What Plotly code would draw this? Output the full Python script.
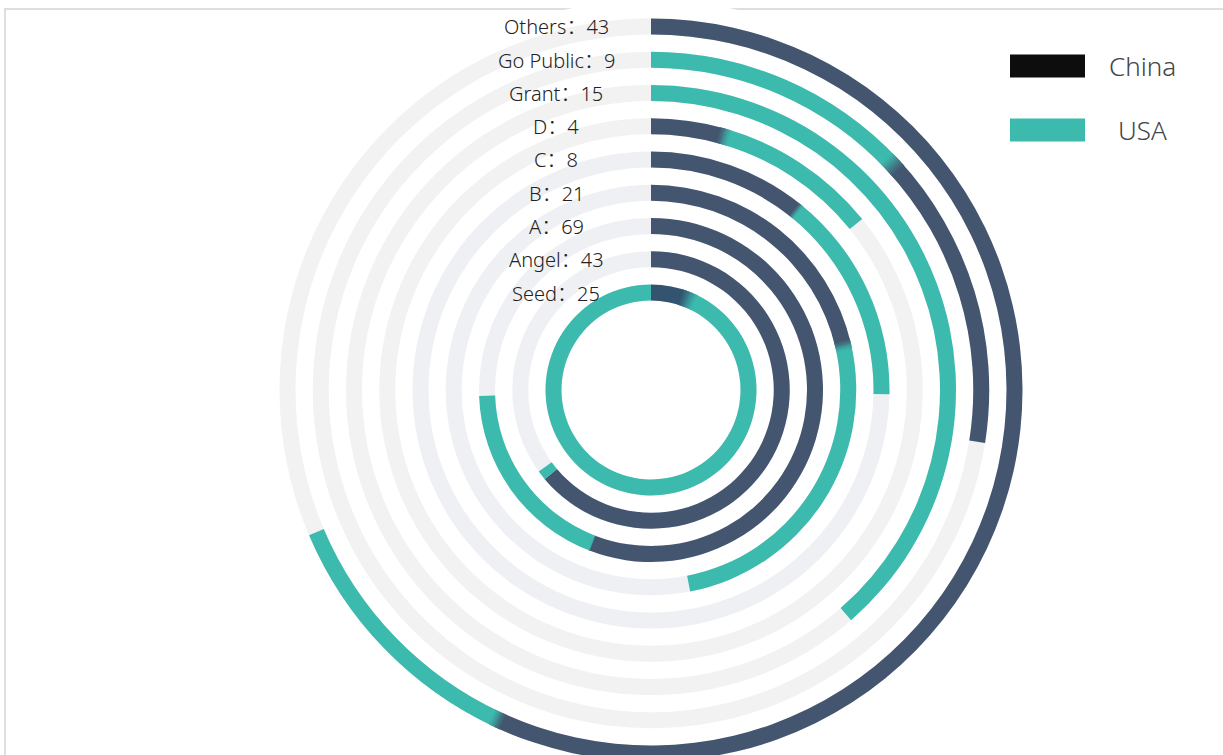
import plotly.graph_objects as go

# ---------------- data ----------------
categories = ["Seed", "Angel", "A", "B", "C", "D", "Grant", "Go Public", "Others"]
deal_counts = [25, 43, 69, 21, 8, 4, 15, 9, 43]
# angular extent (degrees) of each country's arc on every ring
china_deg = [22, 230, 201, 77, 39, 16, 0, 52, 205]
usa_deg = [338, 4, 67, 92, 52, 35, 139, 47, 42]
china_first = [True, True, True, True, True, True, True, False, True]
legend_labels = ["China", "USA"]

# ---------------- style ----------------
CHINA = "#445570"
SEED_CHINA = "#33536f"
USA = "#3dbaae"
LEGEND_CHINA = "#0d0d0d"
TRACK_INNER = "#eef0f4"
TRACK_OUTER = "#f2f2f2"
BLEND = [9, 0, 0.5, 3, 1.5, 2.5, 0, 3, 2]   # width of colour blend at the joint (deg)
FONT = "'Noto Sans', 'Noto Sans CJK SC', sans-serif"

W, H = 1223, 780
CX, CY = 651, 390
R_MAX = 390
R0, STEP, THICK = 97.5, 33.25, 16


def ring_r(i):
    return R0 + STEP * i


def hex2rgb(c):
    c = c.lstrip("#")
    return tuple(int(c[k:k + 2], 16) for k in (0, 2, 4))


def mix(c1, c2, t):
    a, b = hex2rgb(c1), hex2rgb(c2)
    return "rgb(%d,%d,%d)" % tuple(round(a[k] + (b[k] - a[k]) * t) for k in range(3))


fig = go.Figure()

# background tracks
fig.add_trace(go.Barpolar(
    theta=[180] * len(categories),
    width=[360] * len(categories),
    r=[THICK] * len(categories),
    base=[ring_r(i) - THICK / 2 for i in range(len(categories))],
    marker=dict(color=[TRACK_INNER if i < 5 else TRACK_OUTER for i in range(len(categories))],
                line=dict(width=0)),
    hoverinfo="skip", showlegend=False,
))

seg = {"China": dict(theta=[], width=[], r=[], base=[], color=[]),
       "USA": dict(theta=[], width=[], r=[], base=[], color=[])}
blend = dict(theta=[], width=[], r=[], base=[], color=[])

for i, cat in enumerate(categories):
    ccol = SEED_CHINA if i == 0 else CHINA
    parts = [("China", china_deg[i], ccol), ("USA", usa_deg[i], USA)]
    if not china_first[i]:
        parts = parts[::-1]
    start = 0
    for name, span, col in parts:
        if span > 0:
            d = seg[name]
            d["theta"].append(start + span / 2)
            d["width"].append(span)
            d["r"].append(THICK)
            d["base"].append(ring_r(i) - THICK / 2)
            d["color"].append(col)
        start += span
    bw = BLEND[i]
    if bw > 0 and parts[0][1] > 0 and parts[1][1] > 0:
        b = parts[0][1]
        n = 14
        for k in range(n):
            a0 = b - bw / 2 + bw * k / n
            blend["theta"].append(a0 + bw / n / 2)
            blend["width"].append(bw / n * 1.3)
            blend["r"].append(THICK)
            blend["base"].append(ring_r(i) - THICK / 2)
            blend["color"].append(mix(parts[0][2], parts[1][2], (k + 0.5) / n))

for name in ("China", "USA"):
    d = seg[name]
    fig.add_trace(go.Barpolar(
        name=name, theta=d["theta"], width=d["width"], r=d["r"], base=d["base"],
        marker=dict(color=d["color"], line=dict(width=0)), showlegend=False,
    ))

fig.add_trace(go.Barpolar(
    theta=blend["theta"], width=blend["width"], r=blend["r"], base=blend["base"],
    marker=dict(color=blend["color"], line=dict(width=0)),
    hoverinfo="skip", showlegend=False,
))

# ring labels
annotations = []
for i, cat in enumerate(categories):
    annotations.append(dict(
        x=556 / W, y=1 - (CY - ring_r(i) + 0.5) / H, xref="paper", yref="paper",
        text=f"{cat}：{deal_counts[i]}", showarrow=False,
        xanchor="center", yanchor="middle",
        font=dict(family=FONT, size=20, color="#222222", weight=300),
    ))

# custom legend
shapes = []
legend_cols = [LEGEND_CHINA, USA]
legend_y = [66, 130]
for lab, col, ly in zip(legend_labels, legend_cols, legend_y):
    shapes.append(dict(type="rect", xref="paper", yref="paper",
                       x0=1010 / W, x1=1085 / W, y0=1 - (ly + 11.5) / H, y1=1 - (ly - 11.5) / H,
                       fillcolor=col, line=dict(width=0)))
    annotations.append(dict(
        x=1142 / W, y=1 - ly / H, xref="paper", yref="paper", text=lab, showarrow=False,
        xanchor="center", yanchor="middle",
        font=dict(family=FONT, size=26, color="#444444", weight=300),
    ))

# container border
shapes.append(dict(type="rect", xref="paper", yref="paper",
                   x0=5 / W, x1=1.05, y0=-0.05, y1=1 - 9 / H,
                   line=dict(color="#dedede", width=2), fillcolor="rgba(0,0,0,0)", layer="below"))

fig.update_layout(
    width=W, height=H,
    margin=dict(l=0, r=0, t=0, b=0),
    paper_bgcolor="white",
    showlegend=False,
    polar=dict(
        domain=dict(x=[(CX - R_MAX) / W, (CX + R_MAX) / W], y=[0, 1]),
        bgcolor="white",
        barmode="overlay",
        hole=0,
        radialaxis=dict(range=[0, R_MAX], visible=False),
        angularaxis=dict(rotation=90, direction="clockwise", visible=False,
                         showgrid=False, showline=False, showticklabels=False, ticks=""),
    ),
    annotations=annotations,
    shapes=shapes,
)

fig.write_html("out.html", config=dict(displayModeBar=False),
               post_script="document.body.style.margin='0';document.body.style.overflow='hidden';")
